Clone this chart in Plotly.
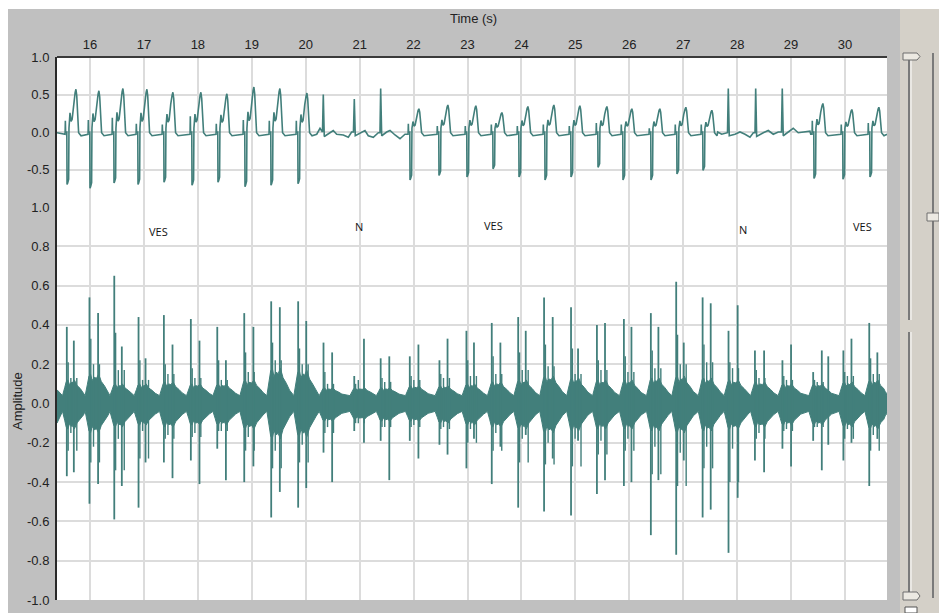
import plotly.graph_objects as go

# ---------------- data ----------------
X_RANGE = [15.388, 30.779]
TIME_TICKS = list(range(16, 31))
TOP_TICKS = [-0.5, 0.0, 0.5, 1.0]
BOTTOM_TICKS = [-1.0, -0.8, -0.6, -0.4, -0.2, 0.0, 0.2, 0.4, 0.6, 0.8, 1.0]

# upper trace: ventricular (VES) beats
ves_t = [15.574, 16.000, 16.445, 16.890, 17.372, 17.891, 18.373, 18.874, 19.356, 19.857,
         21.934, 22.471, 22.990, 23.473, 23.955, 24.437, 24.919, 25.420, 25.883, 26.402,
         26.884, 27.366, 29.425, 29.962, 30.463]
ves_pre = [0.15, 0.16, 0.19, 0.11, 0.10, 0.21, 0.11, 0.16, 0.15, 0.15,
           0.11, 0.08, 0.08, 0.10, 0.08, 0.10, 0.08, 0.12, 0.10, 0.05,
           0.10, 0.10, 0.15, 0.10, 0.12]
ves_trough = [-0.70, -0.75, -0.68, -0.70, -0.67, -0.71, -0.67, -0.73, -0.71, -0.69,
              -0.64, -0.58, -0.60, -0.49, -0.60, -0.64, -0.60, -0.47, -0.64, -0.64,
              -0.56, -0.51, -0.62, -0.63, -0.60]
ves_peak = [0.57, 0.55, 0.58, 0.57, 0.53, 0.53, 0.51, 0.60, 0.58, 0.52,
            0.31, 0.36, 0.35, 0.26, 0.34, 0.36, 0.35, 0.34, 0.31, 0.31,
            0.33, 0.29, 0.38, 0.30, 0.33]
# shape of one VES complex: time offsets (s) and values as fraction of the hump peak
ves_shape_dt = [-0.06, -0.036, -0.031, -0.026, -0.004, 0.0, 0.012, 0.03, 0.036,
                0.055, 0.075, 0.095, 0.105, 0.125, 0.15, 0.165, 0.18, 0.2, 0.215, 0.26]
ves_hump = [0.45, 0.25, 0.30, 0.45, 0.70, 0.92, 1.0, 0.85, 0.35]
ves_base = -0.03

# upper trace: stretches with normal (N) beats
n1_t = [20.204, 20.265, 20.311, 20.326, 20.344, 20.450, 20.511, 20.574, 20.697, 20.790,
        20.851, 20.885, 20.901, 20.919, 21.038, 21.099, 21.160, 21.253, 21.346, 21.377,
        21.390, 21.409, 21.502, 21.563, 21.656, 21.748, 21.841]
n1_v = [-0.03, 0.05, 0.00, 0.50, -0.06, -0.01, 0.02, -0.03, -0.04, -0.07,
        0.00, 0.00, 0.44, -0.05, 0.00, 0.02, -0.05, -0.07, -0.01, -0.01,
        0.58, -0.05, 0.00, 0.02, -0.04, -0.09, -0.03]
n2_t = [27.640, 27.713, 27.793, 27.821, 27.836, 27.854, 27.960, 28.053, 28.146, 28.238,
        28.300, 28.331, 28.344, 28.362, 28.485, 28.577, 28.670, 28.763, 28.822, 28.837,
        28.855, 28.979, 29.040, 29.133, 29.226, 29.350]
n2_v = [0.00, -0.03, -0.01, -0.01, 0.58, -0.05, -0.03, 0.00, -0.03, -0.07,
        -0.01, -0.01, 0.58, -0.06, -0.01, 0.02, -0.03, 0.00, 0.00, 0.58,
        -0.05, 0.01, 0.05, -0.01, 0.00, 0.01]

# lower trace: first spike of each beat
spA_t = [15.57, 15.99, 16.45, 16.90, 17.37, 17.87, 18.36, 18.86, 19.36, 19.86,
         20.33, 20.90, 21.39, 21.93, 22.48, 22.98, 23.45, 23.94, 24.42, 24.92,
         25.40, 25.90, 26.40, 26.87, 27.36, 27.84, 28.33, 28.84, 29.41, 29.97, 30.45]
spA_hi = [0.39, 0.54, 0.65, 0.44, 0.45, 0.43, 0.39, 0.46, 0.52, 0.52,
          0.31, 0.14, 0.23, 0.24, 0.22, 0.37, 0.41, 0.44, 0.54, 0.49,
          0.40, 0.43, 0.46, 0.62, 0.54, 0.37, 0.27, 0.22, 0.16, 0.27, 0.41]
spA_lo = [-0.37, -0.51, -0.59, -0.53, -0.30, -0.29, -0.23, -0.40, -0.58, -0.53,
          -0.25, -0.14, -0.19, -0.19, -0.21, -0.33, -0.41, -0.53, -0.55, -0.57,
          -0.46, -0.42, -0.67, -0.77, -0.58, -0.76, -0.29, -0.23, -0.19, -0.29, -0.42]
# lower trace: second spike of each beat
spB_t = [15.70, 16.15, 16.59, 17.03, 17.53, 18.03, 18.52, 19.03, 19.52, 20.01,
         20.49, 21.08, 21.55, 22.09, 22.63, 23.12, 23.61, 24.08, 24.58, 25.05,
         25.55, 26.04, 26.54, 27.01, 27.51, 28.01, 28.50, 29.00, 29.57, 30.12, 30.60]
spB_hi = [0.32, 0.46, 0.29, 0.23, 0.30, 0.32, 0.22, 0.39, 0.49, 0.42,
          0.26, 0.33, 0.24, 0.30, 0.33, 0.31, 0.31, 0.37, 0.44, 0.28,
          0.41, 0.39, 0.39, 0.31, 0.51, 0.50, 0.27, 0.30, 0.27, 0.33, 0.26]
spB_lo = [-0.35, -0.41, -0.42, -0.30, -0.38, -0.41, -0.39, -0.32, -0.45, -0.43,
          -0.40, -0.20, -0.39, -0.28, -0.26, -0.18, -0.22, -0.16, -0.28, -0.19,
          -0.39, -0.40, -0.39, -0.29, -0.54, -0.48, -0.35, -0.32, -0.34, -0.20, -0.18]
# lower trace: smaller companion spikes (offset from first spike, s) per beat
c1_hi = [0.21, 0.33, 0.36, 0.22, 0.20, 0.18, 0.22, 0.26, 0.31, 0.28,
         0.16, 0.10, 0.13, 0.14, 0.15, 0.22, 0.24, 0.26, 0.30, 0.28,
         0.22, 0.24, 0.27, 0.35, 0.30, 0.21, 0.17, 0.14, 0.12, 0.16, 0.23]
c1_lo = [-0.24, -0.30, -0.34, -0.28, -0.18, -0.17, -0.14, -0.24, -0.33, -0.30,
         -0.15, -0.10, -0.12, -0.12, -0.13, -0.20, -0.24, -0.30, -0.31, -0.32,
         -0.26, -0.24, -0.36, -0.42, -0.33, -0.40, -0.18, -0.14, -0.12, -0.18, -0.24]
c2_hi = [0.13, 0.20, 0.17, 0.12, 0.15, 0.13, 0.12, 0.16, 0.22, 0.20,
         0.10, 0.12, 0.11, 0.12, 0.13, 0.14, 0.15, 0.17, 0.19, 0.15,
         0.17, 0.16, 0.18, 0.20, 0.21, 0.18, 0.13, 0.12, 0.11, 0.14, 0.15]
c2_lo = [-0.15, -0.22, -0.18, -0.14, -0.16, -0.15, -0.14, -0.17, -0.24, -0.21,
         -0.12, -0.10, -0.12, -0.11, -0.12, -0.13, -0.15, -0.18, -0.20, -0.18,
         -0.19, -0.18, -0.22, -0.25, -0.22, -0.23, -0.15, -0.13, -0.12, -0.13, -0.16]
c1_dt = 0.025
c2_dt = 0.075
c3_dt = 0.185
spX_t = [29.69]
spX_hi = [0.24]
spX_lo = [-0.21]
# lower trace: width of the dense noise band around each beat
burst_hi = [0.12, 0.15, 0.10, 0.10, 0.11, 0.10, 0.10, 0.12, 0.18, 0.17,
            0.08, 0.08, 0.08, 0.09, 0.09, 0.10, 0.11, 0.12, 0.14, 0.13,
            0.12, 0.12, 0.13, 0.14, 0.13, 0.12, 0.11, 0.10, 0.10, 0.11, 0.12]
burst_lo = [-0.13, -0.15, -0.12, -0.11, -0.12, -0.11, -0.11, -0.13, -0.18, -0.17,
            -0.09, -0.08, -0.09, -0.09, -0.10, -0.11, -0.12, -0.13, -0.15, -0.14,
            -0.13, -0.13, -0.14, -0.15, -0.14, -0.13, -0.12, -0.11, -0.11, -0.12, -0.13]
band_base = 0.04

labels_t = [17.261, 20.988, 23.491, 28.113, 30.333]
labels_y = [0.875, 0.90, 0.906, 0.886, 0.90]
labels_txt = ["VES", "N", "VES", "N", "VES"]

# ---------------- build traces ----------------
COL = "#427f7b"

pts = [(X_RANGE[0], -0.01), (X_RANGE[1], -0.03)]
for t, pre, tr, pk in zip(ves_t, ves_pre, ves_trough, ves_peak):
    vals = [ves_base, ves_base, pre, 0.0, 0.0, tr, tr * 0.97, tr * 0.9, 0.05] + \
           [f * pk for f in ves_hump] + [-0.01, -0.05, ves_base]
    for dt, v in zip(ves_shape_dt, vals):
        pts.append((t + dt, v))
pts += list(zip(n1_t, n1_v)) + list(zip(n2_t, n2_v))
pts.sort(key=lambda p: p[0])
ecg_x = [p[0] for p in pts]
ecg_y = [p[1] for p in pts]

up = [(X_RANGE[0], 0.07), (X_RANGE[1], band_base)]
lo = [(X_RANGE[0], -0.10), (X_RANGE[1], -band_base)]
for ta, tb, bh, bl in zip(spA_t, spB_t, burst_hi, burst_lo):
    for ref, off, f in [(ta, -0.08, 0.0), (ta, -0.04, 0.5), (ta, -0.01, 0.9), (ta, 0.02, 1.0),
                        (ta, 0.05, 0.7), (ta, 0.09, 0.85), (tb, -0.03, 0.8), (tb, 0.01, 1.0),
                        (tb, 0.06, 0.65), (tb, 0.12, 0.45), (tb, 0.18, 0.2)]:
        up.append((ref + off, band_base + f * (bh - band_base)))
        lo.append((ref + off, -band_base + f * (bl + band_base)))
up.sort(key=lambda p: p[0])
lo.sort(key=lambda p: p[0])
band_x = [p[0] for p in up] + [p[0] for p in reversed(lo)]
band_y = [p[1] for p in up] + [p[1] for p in reversed(lo)]

sp_x, sp_y = [], []
for ts, hs, ls in [(spA_t, spA_hi, spA_lo), (spB_t, spB_hi, spB_lo), (spX_t, spX_hi, spX_lo)]:
    for t, h, l in zip(ts, hs, ls):
        sp_x += [t, t, None]
        sp_y += [h, l, None]
mn_x, mn_y = [], []
for ta, tb, a, b, c, d in zip(spA_t, spB_t, c1_hi, c1_lo, c2_hi, c2_lo):
    for t, h, l in [(ta + c1_dt, a, b), (ta + c2_dt, c, d), (ta + c3_dt, c, b)]:
        mn_x += [t, t, None]
        mn_y += [h, l, None]

fig = go.Figure()
fig.add_trace(go.Scatter(x=ecg_x, y=ecg_y, mode="lines", yaxis="y2",
                         line=dict(color=COL, width=1.6), hoverinfo="skip", showlegend=False))
fig.add_trace(go.Scatter(x=band_x, y=band_y, mode="lines", fill="toself", fillcolor=COL,
                         line=dict(color=COL, width=1), hoverinfo="skip", showlegend=False))
fig.add_trace(go.Scatter(x=mn_x, y=mn_y, mode="lines",
                         line=dict(color=COL, width=1.4), hoverinfo="skip", showlegend=False))
fig.add_trace(go.Scatter(x=sp_x, y=sp_y, mode="lines",
                         line=dict(color=COL, width=1.8), hoverinfo="skip", showlegend=False))

# ---------------- layout ----------------
W, H = 939, 613
L, R, T, B = 57, 52, 57, 13
PW, PH = W - L - R, H - T - B


def px(x):
    return (x - L) / PW


def py(y):
    return (H - B - y) / PH


split = py(207)
tickfont = dict(family="Liberation Sans, Arial, sans-serif", size=13, color="#222222")
GRID = "#dcdcdc"

fig.update_layout(
    width=W, height=H,
    margin=dict(l=L, r=R, t=T, b=B, pad=0, autoexpand=False),
    paper_bgcolor="#c0c0c0",
    plot_bgcolor="white",
    xaxis=dict(range=X_RANGE, tickvals=TIME_TICKS, ticktext=[str(v) for v in TIME_TICKS],
               side="top", anchor="y2", showgrid=True, gridcolor=GRID, gridwidth=2,
               zeroline=False, ticks="", tickfont=tickfont, ticklabelstandoff=4,
               showline=False, automargin=False),
    yaxis=dict(domain=[0, split], range=[-1, 1], tickvals=BOTTOM_TICKS,
               ticktext=[f"{v:.1f}" for v in BOTTOM_TICKS], showgrid=True, gridcolor=GRID,
               gridwidth=2, zeroline=False, ticks="", tickfont=tickfont, ticklabelstandoff=3,
               showline=True, linecolor="#2a2a2a", linewidth=2, automargin=False),
    yaxis2=dict(domain=[split, 1], range=[-1, 1], tickvals=TOP_TICKS,
                ticktext=[f"{v:.1f}" for v in TOP_TICKS], showgrid=True, gridcolor=GRID,
                gridwidth=2, zeroline=False, ticks="", tickfont=tickfont, ticklabelstandoff=3,
                showline=True, linecolor="#2a2a2a", linewidth=2, anchor="x", automargin=False),
)

shapes = []
# white outer strips
shapes.append(dict(type="rect", xref="paper", yref="paper", x0=px(0), x1=px(W), y0=py(9), y1=py(0),
                   fillcolor="white", line=dict(width=0), layer="below"))
shapes.append(dict(type="rect", xref="paper", yref="paper", x0=px(0), x1=px(8), y0=py(H), y1=py(0),
                   fillcolor="white", line=dict(width=0), layer="below"))
# right control panel
shapes.append(dict(type="rect", xref="paper", yref="paper", x0=px(900), x1=px(W), y0=py(H), y1=py(9),
                   fillcolor="#d4d0c8", line=dict(width=0), layer="below"))
for (y0, y1) in [(60, 320), (332, 592)]:
    shapes.append(dict(type="line", xref="paper", yref="paper", x0=px(909), x1=px(909), y0=py(y0), y1=py(y1),
                       line=dict(color="#7a7a7a", width=2)))
    shapes.append(dict(type="line", xref="paper", yref="paper", x0=px(911), x1=px(911), y0=py(y0), y1=py(y1),
                       line=dict(color="#ffffff", width=1)))
shapes.append(dict(type="line", xref="paper", yref="paper", x0=px(933), x1=px(933), y0=py(53), y1=py(598),
                   line=dict(color="#7a7a7a", width=2)))
for (ty0, ty1) in [(53, 60), (592, 600)]:
    shapes.append(dict(type="path", xref="paper", yref="paper",
                       path=f"M {px(903)},{py(ty0)} L {px(917)},{py(ty0)} L {px(920)},{py((ty0 + ty1) / 2)} "
                            f"L {px(917)},{py(ty1)} L {px(903)},{py(ty1)} Z",
                       fillcolor="#ece9e2", line=dict(color="#6e6e6e", width=1)))
shapes.append(dict(type="rect", xref="paper", yref="paper", x0=px(927), x1=px(939), y0=py(221), y1=py(213),
                   fillcolor="#ece9e2", line=dict(color="#6e6e6e", width=1)))
shapes.append(dict(type="rect", xref="paper", yref="paper", x0=px(905), x1=px(917), y0=py(613), y1=py(607),
                   fillcolor="#ffffff", line=dict(color="#555555", width=1)))
# dark top frame line
shapes.append(dict(type="line", xref="paper", yref="paper", x0=0, x1=1, y0=1, y1=1,
                   line=dict(color="#3a3a3a", width=2)))
fig.update_layout(shapes=shapes)

annotations = [
    dict(text="Time (s)", xref="paper", yref="paper", x=px(473), y=py(18), showarrow=False,
         font=dict(family="Liberation Sans, Arial, sans-serif", size=13, color="#222222"),
         xanchor="center", yanchor="middle"),
    dict(text="Amplitude", xref="paper", yref="paper", x=px(18), y=py(401), showarrow=False,
         textangle=-90, font=dict(family="Liberation Sans, Arial, sans-serif", size=13, color="#222222"),
         xanchor="center", yanchor="middle"),
]
for t, y, s in zip(labels_t, labels_y, labels_txt):
    annotations.append(dict(text=s, x=t, y=y, xref="x", yref="y", showarrow=False,
                            font=dict(family="Open Sans, sans-serif", size=11, color="#111111"),
                            xanchor="center", yanchor="middle"))
fig.update_layout(annotations=annotations)

fig.write_html("out.html")
